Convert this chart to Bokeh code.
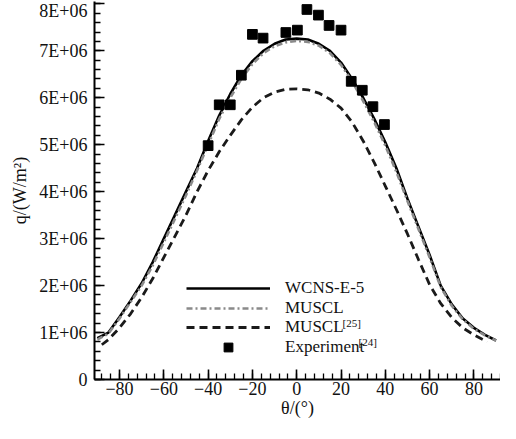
from bokeh.plotting import figure
from bokeh.models import (Range1d, FixedTicker, Legend, LegendItem, Label)
from bokeh.embed import file_html
from bokeh.resources import INLINE

# ---------------- data ----------------
theta_wcns = [-90, -85, -80, -75, -70, -65, -60, -55, -50, -45, -40, -35, -30, -25, -20, -15, -10, -5, 0,
              5, 10, 15, 20, 25, 30, 35, 40, 45, 50, 55, 60, 65, 70, 75, 80, 85, 90]
q_wcns = [0.88e6, 1.0e6, 1.33e6, 1.68e6, 2.05e6, 2.5e6, 3.0e6, 3.5e6, 4.0e6, 4.5e6, 5.08e6, 5.62e6, 6.08e6,
          6.48e6, 6.78e6, 7.0e6, 7.15e6, 7.24e6, 7.26e6,
          7.24e6, 7.15e6, 7.0e6, 6.75e6, 6.4e6, 6.0e6, 5.55e6, 5.05e6, 4.5e6, 3.85e6, 3.25e6, 2.65e6,
          2.0e6, 1.6e6, 1.3e6, 1.1e6, 0.95e6, 0.83e6]

theta_muscl = theta_wcns
q_muscl = [0.85e6, 0.98e6, 1.3e6, 1.65e6, 2.0e6, 2.43e6, 2.92e6, 3.42e6, 3.92e6, 4.45e6, 5.0e6, 5.55e6, 6.0e6,
           6.4e6, 6.72e6, 6.95e6, 7.1e6, 7.18e6, 7.21e6,
           7.19e6, 7.11e6, 6.95e6, 6.7e6, 6.35e6, 5.93e6, 5.48e6, 4.98e6, 4.42e6, 3.8e6, 3.2e6, 2.6e6,
           1.97e6, 1.57e6, 1.28e6, 1.08e6, 0.94e6, 0.83e6]

theta_ref = [-88, -85, -80, -75, -70, -65, -60, -55, -50, -45, -40, -35, -30, -25, -20, -15, -10, -5, 0,
             5, 10, 15, 20, 25, 30, 35, 40, 45, 50, 55, 60, 65, 70, 75, 80, 86]
q_ref = [0.74e6, 0.85e6, 1.1e6, 1.4e6, 1.75e6, 2.15e6, 2.6e6, 3.05e6, 3.5e6, 4.0e6, 4.45e6, 4.85e6, 5.2e6,
         5.53e6, 5.8e6, 6.0e6, 6.12e6, 6.18e6, 6.19e6,
         6.17e6, 6.1e6, 5.97e6, 5.78e6, 5.48e6, 5.08e6, 4.62e6, 4.12e6, 3.62e6, 3.1e6, 2.55e6, 2.02e6,
         1.62e6, 1.32e6, 1.1e6, 0.95e6, 0.8e6]

theta_exp = [-40, -35, -30, -25, -20, -15.2, -4.9, 0.3, 4.6, 9.8, 14.6, 20, 24.6, 29.6, 34.4, 39.6]
q_exp = [4.98e6, 5.85e6, 5.85e6, 6.48e6, 7.35e6, 7.27e6, 7.39e6, 7.44e6, 7.88e6, 7.76e6, 7.54e6, 7.44e6,
         6.35e6, 6.16e6, 5.81e6, 5.43e6]

x_ticks = [-80, -60, -40, -20, 0, 20, 40, 60, 80]
x_tick_labels = ["\u221280", "\u221260", "\u221240", "\u221220", "0", "20", "40", "60", "80"]
y_ticks = [0, 1e6, 2e6, 3e6, 4e6, 5e6, 6e6, 7e6, 8e6]
y_tick_labels = ["0", "1E+06", "2E+06", "3E+06", "4E+06", "5E+06", "6E+06", "7E+06", "8E+06"]

x_title = "\u03b8/(\u00b0)"
y_title = "q/(W/m\u00b2)"

legend_labels = ["WCNS-E-5", "MUSCL", "MUSCL", "Experiment"]
legend_sups = ["", "", "[25]", "[24]"]

FONT = "Liberation Serif"
TXT = "#111111"

p = figure(width=500, height=423, output_backend="svg", toolbar_location=None,
           x_range=Range1d(-91.3, 92.0), y_range=Range1d(0, 8.05e6),
           min_border_left=94, min_border_right=0, min_border_top=1, min_border_bottom=44)
p.outline_line_color = None
p.xgrid.visible = False
p.ygrid.visible = False
p.background_fill_color = "white"
p.border_fill_color = "white"

r1 = p.line(theta_wcns, q_wcns, line_color="black", line_width=2.6)
r2 = p.line(theta_muscl, q_muscl, line_color="#8a8a8a", line_width=2.6, line_dash="6 3 2 3")
r3 = p.line(theta_ref, q_ref, line_color="#1a1a1a", line_width=2.8, line_dash="8 5")
r4 = p.scatter(theta_exp, q_exp, marker="square", size=9.7, fill_color="black", line_color="black")

minor_x = [v for v in range(-88, 93, 4)]
minor_y = [i * 2e5 for i in range(0, 41)]

for ax, ticks, labels, minors in ((p.xaxis[0], x_ticks, x_tick_labels, minor_x),
                                  (p.yaxis[0], y_ticks, y_tick_labels, minor_y)):
    ax.ticker = FixedTicker(ticks=ticks, minor_ticks=minors)
    ax.major_label_overrides = {t: l for t, l in zip(ticks, labels)}
    ax.axis_line_width = 2
    ax.axis_line_color = "black"
    ax.major_tick_in = 10
    ax.major_tick_out = 0
    ax.minor_tick_in = 6
    ax.minor_tick_out = 0
    ax.major_tick_line_width = 1.6
    ax.minor_tick_line_width = 1.3
    ax.major_label_text_font = FONT
    ax.major_label_text_font_size = "18px"
    ax.major_label_text_color = TXT
    ax.axis_label_text_font = FONT
    ax.axis_label_text_font_size = "18px"
    ax.axis_label_text_font_style = "normal"
    ax.axis_label_text_color = TXT

p.yaxis[0].major_label_standoff = 7
p.xaxis[0].major_label_standoff = 2
p.xaxis[0].axis_label = x_title
p.yaxis[0].axis_label = y_title
p.xaxis[0].axis_label_standoff = 0
p.yaxis[0].axis_label_standoff = 6

# legend: one legend per row so the row pitch matches the reference
row_y = [79.75, 60.25, 40.75, 21.25]
for lab, r, y in zip(legend_labels, [r1, r2, r3, r4], row_y):
    lg = Legend(items=[LegendItem(label=lab, renderers=[r])],
                location=(92, y), orientation="vertical",
                glyph_width=84, glyph_height=22, label_height=22, label_standoff=15,
                spacing=0, padding=0, margin=0,
                label_text_font=FONT, label_text_font_size="17px", label_text_color=TXT,
                background_fill_alpha=0, border_line_alpha=0)
    p.add_layout(lg, "center")

# superscripts in legend
sup_pos = {"[25]": (248, 56.75), "[24]": (264, 37.25)}
for s in legend_sups:
    if s:
        sx, sy = sup_pos[s]
        p.add_layout(Label(x=sx, y=sy, x_units="screen", y_units="screen", text=s,
                           text_font=FONT, text_font_size="11px", text_align="left",
                           text_baseline="middle", text_color=TXT))

open("out.html", "w").write(file_html(p, INLINE))
